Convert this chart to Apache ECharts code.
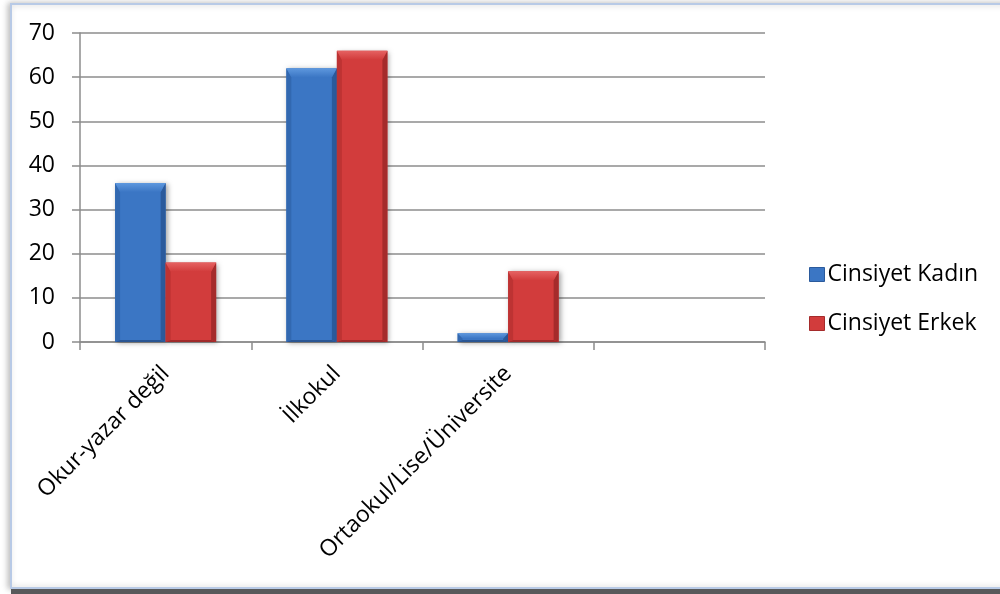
<!DOCTYPE html>
<html>
<head>
<meta charset="utf-8">
<script src="https://cdn.jsdelivr.net/npm/echarts@6/dist/echarts.min.js"></script>
<style>
  html, body { margin: 0; padding: 0; background: #ffffff; }
  #chart { width: 1000px; height: 594px; }
</style>
</head>
<body>
<div id="chart"></div>
<script>
// Education level by gender
const categories = ['Okur-yazar değil', 'İlkokul', 'Ortaokul/Lise/Üniversite', ''];
const kadin = [36, 62, 2, null];
const erkek = [18, 66, 16, null];
const yTicks = { min: 0, max: 70, interval: 10 };

const FONT = '"Open Sans", "DejaVu Sans", sans-serif';

// shades for the bevelled bar faces
const BLUE = { face: '#3b76c4', top: '#5e98de', left: '#3268b0', right: '#2b5a9c', bottom: '#2a5694' };
const RED = { face: '#d23c3c', top: '#e56262', left: '#bd3333', right: '#a52b2b', bottom: '#a02a2a' };

const BAR_FRAC = 0.295;  // bar width as a share of the category band

function bevelBar(shades, side) {
  return function (params, api) {
    const v = api.value(1);
    if (v == null || isNaN(v)) return null;
    const idx = api.value(0);
    const top = api.coord([idx, v]);
    const base = api.coord([idx, 0]);
    const w = api.size([1, 0])[0] * BAR_FRAC;
    const x = side < 0 ? top[0] - w : top[0];
    const y = top[1];
    const h = base[1] - top[1];
    const b = Math.max(1, Math.min(9, h * 0.6, w / 2));
    const sb = Math.min(5, w / 2);
    const bb = Math.min(2, h / 4);
    return {
      type: 'group',
      children: [
        { type: 'rect', shape: { x: x, y: y, width: w, height: h },
          style: { fill: shades.face, shadowColor: 'rgba(0,0,0,0.35)', shadowBlur: 5, shadowOffsetX: 2, shadowOffsetY: 1 } },
        { type: 'polygon', shape: { points: [[x, y], [x + sb, y + b], [x + sb, y + h - bb], [x, y + h]] },
          style: { fill: shades.left } },
        { type: 'polygon', shape: { points: [[x + w, y], [x + w - sb, y + b], [x + w - sb, y + h - bb], [x + w, y + h]] },
          style: { fill: shades.right } },
        { type: 'polygon', shape: { points: [[x, y], [x + w, y], [x + w - sb, y + b], [x + sb, y + b]] },
          style: {
            fill: {
              type: 'linear', x: 0, y: 0, x2: 0, y2: 1,
              colorStops: [{ offset: 0, color: shades.top }, { offset: 1, color: shades.face }]
            }
          } },
        { type: 'polygon', shape: { points: [[x, y + h], [x + w, y + h], [x + w - sb, y + h - bb], [x + sb, y + h - bb]] },
          style: { fill: shades.bottom } }
      ]
    };
  };
}

function toPairs(values) {
  return values.map(function (v, i) { return [i, v == null ? NaN : v]; });
}

const chart = echarts.init(document.getElementById('chart'), null, { renderer: 'canvas' });

chart.setOption({
  animation: false,
  backgroundColor: '#ffffff',
  graphic: [
    {
      type: 'rect', z: -10, silent: true,
      shape: { x: 11, y: 4, width: 1000, height: 584 },
      style: {
        fill: '#ffffff', stroke: '#b8cae6', lineWidth: 2,
        shadowColor: 'rgba(0,0,0,0.25)', shadowBlur: 6, shadowOffsetX: -2
      }
    },
    {
      type: 'rect', z: -9, silent: true,
      shape: { x: 11, y: 589, width: 1000, height: 6 },
      style: { fill: '#58595b' }
    }
  ],
  grid: { left: 80, right: 235, top: 33, bottom: 252, containLabel: false },
  legend: {
    orient: 'vertical',
    left: 804,
    top: 258,
    itemWidth: 15,
    itemHeight: 14,
    itemGap: 26,
    icon: 'rect',
    textStyle: { fontFamily: FONT, fontSize: 23, color: '#000000', padding: [0, 0, 0, -2] },
    data: [
      { name: 'Cinsiyet Kadın', itemStyle: { color: BLUE.face, borderColor: BLUE.right, borderWidth: 1 } },
      { name: 'Cinsiyet Erkek', itemStyle: { color: RED.face, borderColor: RED.right, borderWidth: 1 } }
    ]
  },
  xAxis: {
    type: 'category',
    data: categories,
    boundaryGap: true,
    axisLine: { lineStyle: { color: '#8c8c8c', width: 1.5 } },
    axisTick: { show: true, length: 8, alignWithLabel: false, lineStyle: { color: '#8c8c8c', width: 1.5 } },
    axisLabel: {
      interval: 0, rotate: 45, margin: 28,
      fontFamily: FONT, fontSize: 23, color: '#000000'
    }
  },
  yAxis: {
    type: 'value',
    min: yTicks.min, max: yTicks.max, interval: yTicks.interval,
    axisLine: { show: true, lineStyle: { color: '#8c8c8c', width: 1.5 } },
    axisTick: { show: true, length: 8, inside: false, lineStyle: { color: '#8c8c8c', width: 1.5 } },
    axisLabel: { margin: 25, fontFamily: FONT, fontSize: 23, color: '#000000' },
    splitLine: { show: true, lineStyle: { color: '#8c8c8c', width: 1.5 } }
  },
  series: [
    {
      name: 'Cinsiyet Kadın', type: 'custom', data: toPairs(kadin),
      encode: { x: 0, y: 1 },
      itemStyle: { color: BLUE.face },
      renderItem: bevelBar(BLUE, -1)
    },
    {
      name: 'Cinsiyet Erkek', type: 'custom', data: toPairs(erkek),
      encode: { x: 0, y: 1 },
      itemStyle: { color: RED.face },
      renderItem: bevelBar(RED, 1)
    }
  ]
});
</script>
</body>
</html>
